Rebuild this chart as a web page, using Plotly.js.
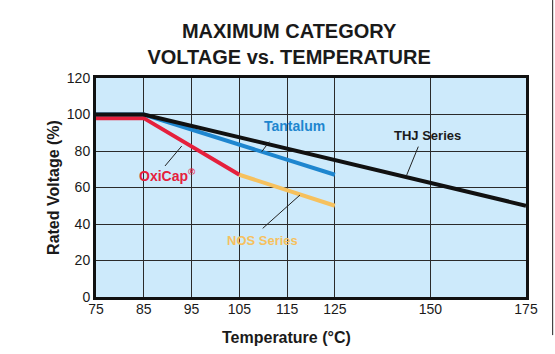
<!DOCTYPE html>
<html>
<head>
<meta charset="utf-8">
<script src="https://cdn.plot.ly/plotly-3.0.1.min.js"></script>
<style>
html,body{margin:0;padding:0;background:#fff;}
#chart{width:555px;height:354px;}
</style>
</head>
<body>
<div id="chart"></div>
<script>
// ---- data (temperature in °C, rated voltage in %) ----
var tickTemps = [75, 85, 95, 105, 115, 125, 150, 175];
var tickLabels = ['75', '85', '95', '105', '115', '125', '150', '175'];

var thjTemp = [75, 85, 175];
var thjVolt = [100, 100, 50];

var tantalumTemp = [75, 85, 125];
var tantalumVolt = [100, 100, 67];

var oxicapTemp = [75, 85, 105];
var oxicapVolt = [98, 98, 67];

var nosTemp = [105, 125];
var nosVolt = [67, 50];

// The chart's temperature axis is piecewise: 10 °C steps up to 125, then 25 °C steps.
function pos(t) {
  return t <= 125 ? (t - 75) / 10 : 5 + (t - 125) / 12.5;
}
function mapAll(a) { return a.map(pos); }

var font = "'Liberation Sans', Arial, Helvetica, sans-serif";

var traces = [
  {x: mapAll(tantalumTemp), y: tantalumVolt, mode: 'lines', name: 'Tantalum',
   line: {color: '#1e86cf', width: 4}},
  {x: mapAll(oxicapTemp), y: oxicapVolt, mode: 'lines', name: 'OxiCap®',
   line: {color: '#e5203c', width: 4}},
  {x: mapAll(nosTemp), y: nosVolt, mode: 'lines', name: 'NOS Series',
   line: {color: '#f6c15e', width: 4}},
  {x: mapAll(thjTemp), y: thjVolt, mode: 'lines', name: 'THJ Series',
   line: {color: '#111111', width: 4}}
];

function leader(x0, y0, x1, y1) {
  return {type: 'line', xref: 'x', yref: 'y', x0: x0, y0: y0, x1: x1, y1: y1,
          line: {color: '#222', width: 1}};
}

var layout = {
  width: 555, height: 354,
  margin: {l: 96, r: 29, t: 78, b: 57},
  paper_bgcolor: '#ffffff',
  plot_bgcolor: '#cdeafb',
  showlegend: false,
  font: {family: font, color: '#1a1a1a'},
  title: {
    text: 'MAXIMUM CATEGORY<br>VOLTAGE vs. TEMPERATURE',
    font: {family: font, size: 20, color: '#1a1a1a', weight: 'bold'},
    x: 0.521, xref: 'container', xanchor: 'center',
    y: 0.893, yref: 'container', yanchor: 'top'
  },
  xaxis: {
    range: [0, 9],
    tickmode: 'array',
    tickvals: tickTemps.map(pos),
    ticktext: tickLabels,
    ticks: '',
    ticklabelstandoff: -3,
    showgrid: true, gridcolor: '#2a2a2a', gridwidth: 1,
    zeroline: false,
    showline: true, linecolor: '#111', linewidth: 3, mirror: true,
    tickfont: {family: font, size: 14, color: '#1a1a1a'},
    fixedrange: true
  },
  yaxis: {
    range: [0, 120],
    tickvals: [0, 20, 40, 60, 80, 100, 120],
    ticks: '',
    showgrid: true, gridcolor: '#2a2a2a', gridwidth: 1,
    zeroline: false,
    showline: true, linecolor: '#111', linewidth: 3, mirror: true,
    tickfont: {family: font, size: 14, color: '#1a1a1a'},
    title: {text: 'Rated Voltage (%)', standoff: 4,
            font: {family: font, size: 16, color: '#1a1a1a', weight: 'bold'}},
    fixedrange: true
  },
  annotations: [
    {x: 0.444, y: -0.185, xref: 'paper', yref: 'paper', showarrow: false,
     text: 'Temperature (°C)', xanchor: 'center', yanchor: 'middle',
     font: {family: font, size: 16, color: '#1a1a1a', weight: 'bold'}},
    {x: 4.165, y: 93.7, xref: 'x', yref: 'y', showarrow: false, text: 'Tantalum',
     font: {family: font, size: 14, color: '#1e86cf', weight: 'bold'}},
    {x: 1.49, y: 66.8, xref: 'x', yref: 'y', showarrow: false, text: 'OxiCap<sup>®</sup>',
     font: {family: font, size: 14, color: '#e5203c', weight: 'bold'}},
    {x: 3.495, y: 30.8, xref: 'x', yref: 'y', showarrow: false, text: 'NOS Series',
     font: {family: font, size: 13, color: '#f6c15e', weight: 'bold'}},
    {x: 6.938, y: 88.4, xref: 'x', yref: 'y', showarrow: false, text: 'THJ Series',
     font: {family: font, size: 13, color: '#1a1a1a', weight: 'bold'}}
  ],
  shapes: [
    leader(3.627, 85.1, 3.468, 79.6),
    leader(1.444, 71.8, 1.794, 82.7),
    leader(3.489, 37.6, 4.270, 55.9),
    leader(6.746, 82.4, 6.503, 66.8),
    {type: 'line', xref: 'paper', yref: 'paper', x0: 1.062, x1: 1.062, y0: 1.356, y1: -0.174,
     line: {color: '#222', width: 1}}
  ]
};

Plotly.newPlot('chart', traces, layout, {displayModeBar: false, staticPlot: true});
</script>
</body>
</html>
